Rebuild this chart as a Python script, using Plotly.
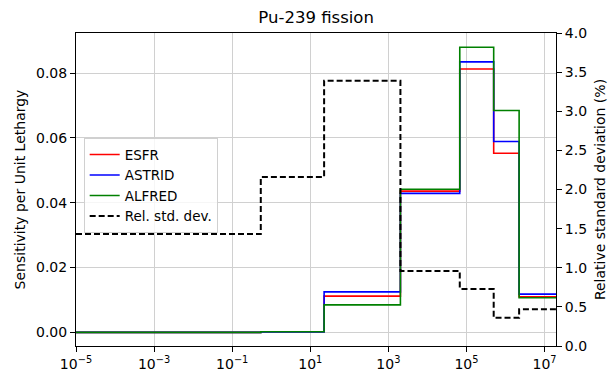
import plotly.graph_objects as go

# Energy group boundaries (eV) of the collapsed group structure
energy_edges = [1e-5, 0.54, 22.603, 2034.7, 67379.0, 497870.0, 2231300.0, 19640000.0]

# Pu-239 fission sensitivity per unit lethargy, one value per group
esfr = [0.0, 0.0002, 0.0112, 0.0436, 0.0813, 0.0553, 0.0110]
astrid = [0.0, 0.0001, 0.0125, 0.0429, 0.0835, 0.0589, 0.0118]
alfred = [0.0, 0.0002, 0.0085, 0.0442, 0.0880, 0.0685, 0.0107]

# Relative standard deviation of the cross section (%)
rel_std = [1.43, 2.16, 3.39, 0.96, 0.73, 0.36, 0.47]

x_ticks = [1e-5, 1e-3, 1e-1, 1e1, 1e3, 1e5, 1e7]
x_tick_text = ["10<sup>\u22125</sup>", "10<sup>\u22123</sup>", "10<sup>\u22121</sup>",
               "10<sup>1</sup>", "10<sup>3</sup>", "10<sup>5</sup>", "10<sup>7</sup>"]


def steps(values):
    # post-step: repeat the last value so the final group reaches the upper edge
    return list(values) + [values[-1]]


FONT = "DejaVu Sans"
fig = go.Figure()

for name, vals, color in [("ESFR", esfr, "#ff0000"),
                          ("ASTRID", astrid, "#0000ff"),
                          ("ALFRED", alfred, "#008000")]:
    fig.add_trace(go.Scatter(
        x=energy_edges, y=steps(vals), mode="lines", name=name,
        line=dict(color=color, width=1.6, shape="hv"),
    ))

fig.add_trace(go.Scatter(
    x=energy_edges, y=steps(rel_std), mode="lines", name="Rel. std. dev.",
    line=dict(color="#000000", width=2, dash="6px,3px", shape="hv"),
    yaxis="y2",
))

axis_common = dict(
    showline=True, linecolor="#000000", linewidth=1,
    ticks="outside", ticklen=5, tickwidth=1, tickcolor="#000000",
    tickfont=dict(family=FONT, size=14, color="#000000"),
    zeroline=False, automargin=False,
)

fig.update_layout(
    width=615, height=374,
    margin=dict(l=76, r=59, t=33, b=28),
    paper_bgcolor="white", plot_bgcolor="white",
    font=dict(family=FONT, size=14, color="#000000"),
    title=dict(text="Pu-239 fission", x=0.514, xanchor="center",
               y=0.938, yanchor="bottom",
               font=dict(family=FONT, size=16.5, color="#000000")),
    xaxis=dict(
        type="log", range=[-5, 7.293],
        tickvals=x_ticks, ticktext=x_tick_text,
        showgrid=True, gridcolor="#d0d0d0", gridwidth=1,
        mirror=True, **axis_common,
    ),
    yaxis=dict(
        range=[-0.0042, 0.0924], dtick=0.02, tick0=0, tickformat=".2f",
        showgrid=True, gridcolor="#d0d0d0", gridwidth=1,
        title=dict(text="Sensitivity per Unit Lethargy", standoff=7,
                   font=dict(family=FONT, size=14, color="#000000")),
        **axis_common,
    ),
    yaxis2=dict(
        overlaying="y", side="right", range=[0, 4], dtick=0.5, tick0=0,
        tickformat=".1f", showgrid=False,
        title=dict(text="Relative standard deviation (%)", standoff=9,
                   font=dict(family=FONT, size=14, color="#000000")),
        **axis_common,
    ),
    legend=dict(
        x=0.016, y=0.664, xanchor="left", yanchor="top",
        bgcolor="rgba(255,255,255,0.8)", bordercolor="#d0d0d0", borderwidth=1,
        font=dict(family=FONT, size=13.5, color="#000000"),
    ),
    showlegend=True,
)

fig.write_html("out.html")
